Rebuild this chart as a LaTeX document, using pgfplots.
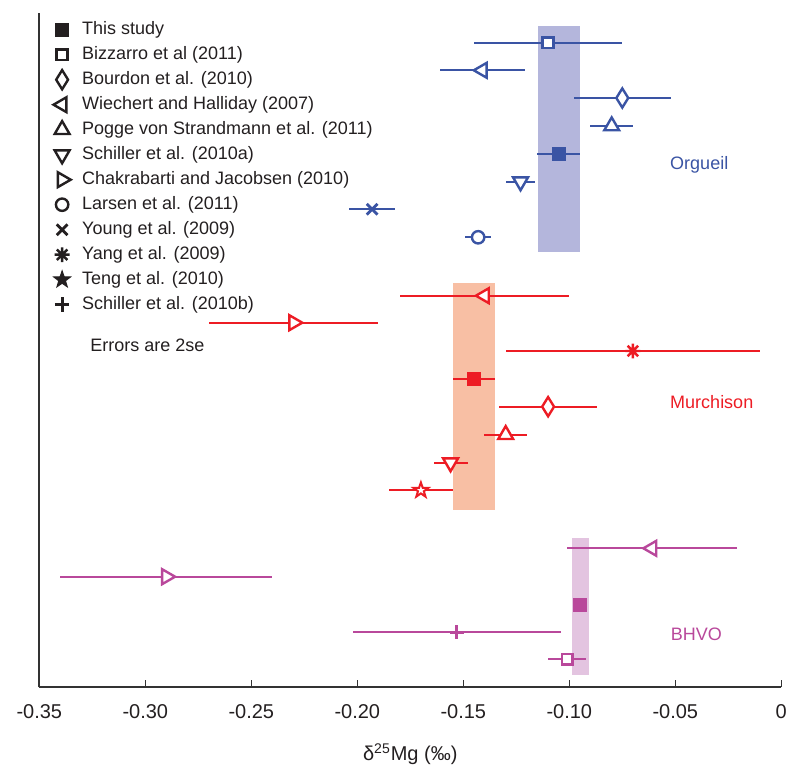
\documentclass[border=0pt]{standalone}
\usepackage{fontspec}
\setmainfont{Liberation Sans}
\usepackage{pgfplots}
\pgfplotsset{compat=1.18}
\usetikzlibrary{plotmarks}

\definecolor{org}{HTML}{3A54A4}
\definecolor{orgband}{HTML}{B4B6DC}
\definecolor{mur}{HTML}{ED1C24}
\definecolor{murband}{HTML}{F8BFA4}
\definecolor{bhv}{HTML}{B9489B}
\definecolor{bhvband}{HTML}{E3C4E0}
\definecolor{ink}{HTML}{231F20}

% eight-spoke asterisk (Yang), five-point star (Teng), narrow diamond (Bourdon)
\pgfdeclareplotmark{ast8}{%
  \pgfpathmoveto{\pgfqpoint{0pt}{\pgfplotmarksize}}\pgfpathlineto{\pgfqpoint{0pt}{-\pgfplotmarksize}}%
  \pgfpathmoveto{\pgfqpoint{\pgfplotmarksize}{0pt}}\pgfpathlineto{\pgfqpoint{-\pgfplotmarksize}{0pt}}%
  \pgfpathmoveto{\pgfqpoint{.7071\pgfplotmarksize}{.7071\pgfplotmarksize}}\pgfpathlineto{\pgfqpoint{-.7071\pgfplotmarksize}{-.7071\pgfplotmarksize}}%
  \pgfpathmoveto{\pgfqpoint{.7071\pgfplotmarksize}{-.7071\pgfplotmarksize}}\pgfpathlineto{\pgfqpoint{-.7071\pgfplotmarksize}{.7071\pgfplotmarksize}}%
  \pgfusepathqstroke}
\pgfdeclareplotmark{star5}{%
  \pgfpathmoveto{\pgfqpointpolar{90}{\pgfplotmarksize}}%
  \pgfpathlineto{\pgfqpointpolar{126}{.4\pgfplotmarksize}}%
  \pgfpathlineto{\pgfqpointpolar{162}{\pgfplotmarksize}}%
  \pgfpathlineto{\pgfqpointpolar{198}{.4\pgfplotmarksize}}%
  \pgfpathlineto{\pgfqpointpolar{234}{\pgfplotmarksize}}%
  \pgfpathlineto{\pgfqpointpolar{270}{.4\pgfplotmarksize}}%
  \pgfpathlineto{\pgfqpointpolar{306}{\pgfplotmarksize}}%
  \pgfpathlineto{\pgfqpointpolar{342}{.4\pgfplotmarksize}}%
  \pgfpathlineto{\pgfqpointpolar{18}{\pgfplotmarksize}}%
  \pgfpathlineto{\pgfqpointpolar{54}{.4\pgfplotmarksize}}%
  \pgfpathclose\pgfusepathqfillstroke}
\pgfdeclareplotmark{dia}{%
  \pgfpathmoveto{\pgfqpoint{0pt}{\pgfplotmarksize}}%
  \pgfpathlineto{\pgfqpoint{.62\pgfplotmarksize}{0pt}}%
  \pgfpathlineto{\pgfqpoint{0pt}{-\pgfplotmarksize}}%
  \pgfpathlineto{\pgfqpoint{-.62\pgfplotmarksize}{0pt}}%
  \pgfpathclose\pgfusepathqfillstroke}

\pgfplotsset{
  ebar/.style={only marks, forget plot,
    error bars/x dir=both, error bars/x explicit, error bars/error mark=none,
    error bars/error bar style={line width=0.9pt, solid}},
  band/.style={draw=none, fill=#1, forget plot},
  mOpen/.style={mark=square*, mark size=2.65pt, mark options={solid, fill=white, line width=1.35pt}},
  mSolid/.style={mark=square*, mark size=3.2pt, mark options={solid, line width=0.4pt}},
  mDia/.style={mark=dia, mark size=4.8pt, mark options={solid, fill=white, line width=1.2pt}},
  mTri/.style={mark=triangle*, mark size=4.3pt, mark options={solid, fill=white, line width=1.2pt, rotate=#1}},
  mCirc/.style={mark=*, mark size=3.1pt, mark options={solid, fill=white, line width=1.2pt}},
  mX/.style={mark=x, mark size=3.8pt, mark options={solid, line width=1.4pt}},
  mAst/.style={mark=ast8, mark size=3.7pt, mark options={solid, line width=1.2pt}},
  mStar/.style={mark=star5, mark size=3.9pt, mark options={solid, fill=white, line width=1pt}},
  mPlus/.style={mark=+, mark size=3.6pt, mark options={solid, line width=1.5pt}},
}

\begin{document}
\begin{tikzpicture}
\path[use as bounding box] (-19.65pt,-45.35pt) rectangle (380.35pt,343.65pt);
\begin{axis}[
    at={(0,0)}, anchor=south west,
    scale only axis,
    width=371pt,
    height=337.15pt,
    xmin=-0.35, xmax=0,
    ymin=0, ymax=674.3,
    axis x line*=bottom,
    axis y line*=left,
    axis line style={line width=0.8pt, black!80},
    ytick=\empty,
    xtick={-0.35,-0.30,-0.25,-0.20,-0.15,-0.10,-0.05,0},
    xticklabels={-0.35,-0.30,-0.25,-0.20,-0.15,-0.10,-0.05,0},
    tick align=inside,
    major tick length=3.5pt,
    tick style={line width=0.6pt, black!80},
    xticklabel style={font=\fontsize{10}{12}\selectfont, text=ink, yshift=-5pt},
    xlabel={δ\textsuperscript{25}Mg (‰)},
    xlabel style={font=\fontsize{10}{12}\selectfont, text=ink, at={(axis description cs:0.5,0)}, anchor=center, yshift=-33.4pt},
    legend style={at={(axis description cs:0,1)}, anchor=north west,
        xshift=4.1pt, yshift=-2.65pt, draw=none, fill=none, inner sep=0pt,
        font=\fontsize{9}{10.8}\selectfont, text=ink,
        nodes={inner sep=0pt}, row sep=1.5pt, column sep=2.9pt},
    legend cell align=left,
    legend image code/.code={\path[draw=none, fill=none] (0pt,-5.5pt) rectangle (0.5cm,5.5pt);
        \draw[#1, mark repeat=1] plot coordinates {(0.25cm,0cm)};},
    clip=false,
]

% shaded ranges of this study
\addplot[band=orgband] coordinates {(-0.1149,435.3) (-0.0950,435.3) (-0.0950,661.3) (-0.1149,661.3)} -- cycle;
\addplot[band=murband] coordinates {(-0.1549,177.3) (-0.1349,177.3) (-0.1349,404.6) (-0.1549,404.6)} -- cycle;
\addplot[band=bhvband] coordinates {(-0.0987,12.3) (-0.0908,12.3) (-0.0908,149.0) (-0.0987,149.0)} -- cycle;

% Orgueil
\addplot[org, ebar, mOpen] coordinates {(-0.110,644.6) +- (0.035,0)};
\addplot[org, ebar, mTri=90] coordinates {(-0.141,617.0) +- (0.020,0)};
\addplot[org, ebar, mDia] coordinates {(-0.075,589.3) +- (0.023,0)};
\addplot[org, ebar, mTri=0] coordinates {(-0.080,561.3) +- (0.010,0)};
\addplot[org, ebar, mSolid] coordinates {(-0.105,533.3) +- (0.010,0)};
\addplot[org, ebar, mTri=180] coordinates {(-0.123,505.6) +- (0.007,0)};
\addplot[org, ebar, mX] coordinates {(-0.193,478.0) +- (0.011,0)};
\addplot[org, ebar, mCirc] coordinates {(-0.143,450.0) +- (0.006,0)};

% Murchison
\addplot[mur, ebar, mTri=90] coordinates {(-0.140,391.6) +- (0.040,0)};
\addplot[mur, ebar, mTri=-90] coordinates {(-0.230,364.6) +- (0.040,0)};
\addplot[mur, ebar, mAst] coordinates {(-0.070,336.3) +- (0.060,0)};
\addplot[mur, ebar, mSolid] coordinates {(-0.145,308.3) +- (0.010,0)};
\addplot[mur, ebar, mDia] coordinates {(-0.110,280.6) +- (0.023,0)};
\addplot[mur, ebar, mTri=0] coordinates {(-0.130,252.6) +- (0.010,0)};
\addplot[mur, ebar, mTri=180] coordinates {(-0.156,224.6) +- (0.008,0)};
\addplot[mur, ebar, mStar] coordinates {(-0.170,197.0) +- (0.015,0)};

% BHVO
\addplot[bhv, ebar, mTri=90] coordinates {(-0.061,139.0) +- (0.040,0)};
\addplot[bhv, ebar, mTri=-90] coordinates {(-0.290,110.6) +- (0.050,0)};
\addplot[bhv, ebar, mSolid] coordinates {(-0.095,82.3) +- (0.003,0)};
\addplot[bhv, ebar, mPlus] coordinates {(-0.153,55.0) +- (0.049,0)};
\addplot[bhv, ebar, mOpen] coordinates {(-0.101,28.0) +- (0.009,0)};

\node[font=\fontsize{9}{10.8}\selectfont, text=org] at (axis cs:-0.0387,522.3) {Orgueil};
\node[font=\fontsize{9}{10.8}\selectfont, text=mur] at (axis cs:-0.0328,285.6) {Murchison};
\node[font=\fontsize{9}{10.8}\selectfont, text=bhv] at (axis cs:-0.0400,53.0) {BHVO};
\node[font=\fontsize{9}{10.8}\selectfont, text=ink, anchor=west, inner sep=0pt] at (axis cs:-0.3261,342.3) {Errors are 2se};

\addlegendimage{ink, only marks, mSolid}
\addlegendentry{This study}
\addlegendimage{ink, only marks, mOpen}
\addlegendentry{Bizzarro et al (2011)}
\addlegendimage{ink, only marks, mDia}
\addlegendentry{Bourdon et al. (2010)}
\addlegendimage{ink, only marks, mTri=90}
\addlegendentry{Wiechert and Halliday (2007)}
\addlegendimage{ink, only marks, mTri=0}
\addlegendentry{Pogge von Strandmann et al. (2011)}
\addlegendimage{ink, only marks, mTri=180}
\addlegendentry{Schiller et al. (2010a)}
\addlegendimage{ink, only marks, mTri=-90}
\addlegendentry{Chakrabarti and Jacobsen (2010)}
\addlegendimage{ink, only marks, mCirc}
\addlegendentry{Larsen et al. (2011)}
\addlegendimage{ink, only marks, mX}
\addlegendentry{Young et al. (2009)}
\addlegendimage{ink, only marks, mAst}
\addlegendentry{Yang et al. (2009)}
\addlegendimage{ink, only marks, mark=star5, mark size=4.4pt, mark options={solid, fill=ink, line width=0.5pt}}
\addlegendentry{Teng et al. (2010)}
\addlegendimage{ink, only marks, mPlus}
\addlegendentry{Schiller et al. (2010b)}

\end{axis}
\end{tikzpicture}
\end{document}
